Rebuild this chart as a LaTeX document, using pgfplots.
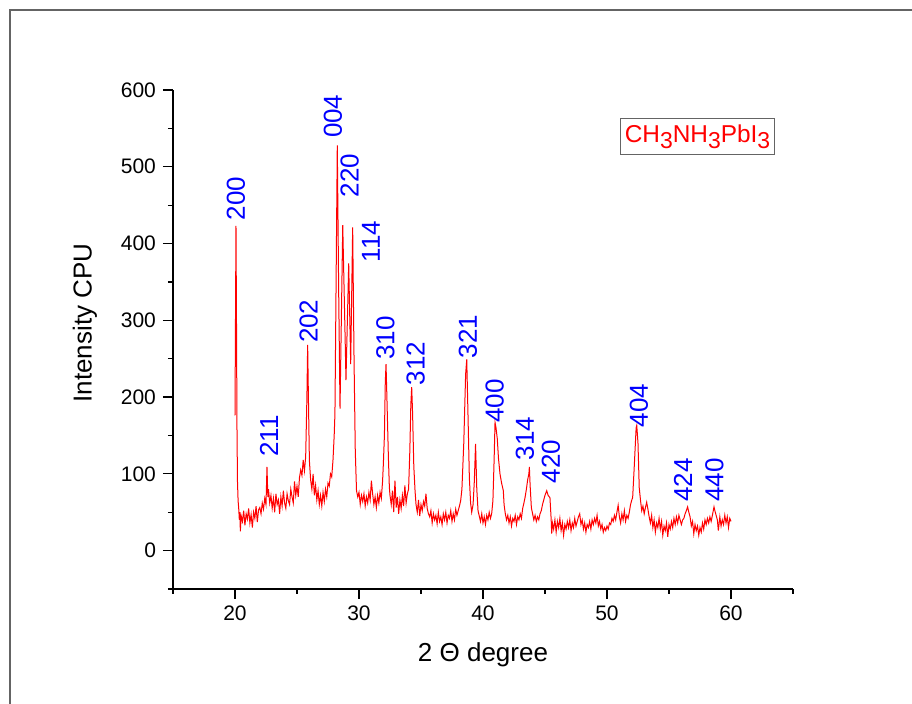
\documentclass[border=0pt]{standalone}
\usepackage{fontspec}
\setmainfont{Liberation Sans}
\usepackage{pgfplots}
\pgfplotsset{compat=1.18}
\definecolor{framegray}{RGB}{100,100,100}
\newcommand\sub[1]{\raisebox{-3pt}{\fontsize{11.5}{12}\selectfont #1}}
\begin{document}
\begin{tikzpicture}
\begin{axis}[
  at={(0,0)}, anchor=south west,
  scale only axis, width=310pt, height=249.5pt,
  xmin=15, xmax=65, ymin=-50, ymax=600,
  axis lines=left,
  axis line style={-, line width=0.6pt, black},
  xtick={20,30,...,60}, ytick={0,100,...,600},
  minor xtick={15,25,...,65}, minor ytick={-50,50,...,550},
  tick align=outside,
  major tick length=5pt, minor tick length=2.5pt,
  every tick/.style={black, line width=0.6pt},
  ticklabel style={font=\fontsize{10.5}{12}\selectfont},
  /pgf/number format/assume math mode=true,
  xlabel={2 Θ degree}, ylabel={Intensity CPU},
  label style={font=\fontsize{13}{15}\selectfont},
  xlabel style={at={(axis description cs:0.5,-0.132)}, anchor=center},
  ylabel style={at={(axis description cs:-0.142,0.533)}, anchor=center},
  clip=false,
]
\addplot[red, line width=0.5pt] coordinates {
(20.00,176)(20.04,300)(20.08,423)(20.12,300)(20.16,160)(20.20,90)(20.25,65)(20.30,55)(20.35,40)(20.40,50)(20.43,25)
(20.5,45)(20.6,38)(20.7,52)(20.8,33)(20.9,48)(21.0,41)(21.1,55)(21.2,36)(21.3,47)(21.4,30)(21.5,50)(21.6,42)(21.7,58)(21.8,37)(21.9,53)
(22.0,56)(22.1,48)(22.2,62)(22.3,54)(22.4,68)(22.5,60)(22.58,109)(22.65,70)(22.7,80)(22.8,62)(22.9,72)
(23.0,55)(23.1,68)(23.2,50)(23.3,74)(23.4,60)(23.5,66)(23.6,48)(23.7,70)(23.8,58)(23.9,78)
(24.0,62)(24.1,55)(24.2,74)(24.3,65)(24.4,60)(24.5,80)(24.6,70)(24.7,62)(24.8,90)(24.9,72)
(25.0,84)(25.1,70)(25.2,95)(25.3,105)(25.4,98)(25.5,118)(25.6,104)(25.7,122)(25.8,200)(25.86,268)(25.92,200)
(26.0,117)(26.1,92)(26.2,80)(26.3,100)(26.4,72)(26.5,85)(26.6,66)(26.7,78)(26.8,60)(26.9,72)
(27.0,58)(27.1,76)(27.2,64)(27.3,80)(27.4,70)(27.5,88)(27.6,84)(27.7,100)(27.8,96)(27.9,117)
(28.0,150)(28.06,178)(28.25,528)(28.36,340)(28.47,185)(28.69,424)(28.88,278)(28.95,222)(29.17,374)(29.33,243)(29.49,421)(29.6,250)(29.7,130)(29.8,78)(29.9,70)
(30.0,76)(30.1,60)(30.2,72)(30.3,64)(30.4,74)(30.5,58)(30.6,70)(30.7,62)(30.8,76)(30.9,66)
(31.0,91)(31.1,74)(31.2,60)(31.3,70)(31.4,56)(31.5,72)(31.6,62)(31.7,76)(31.8,68)(31.9,90)
(31.96,111)(32.05,150)(32.12,219)(32.18,243)(32.25,200)(32.37,122)(32.45,82)(32.5,72)(32.6,60)(32.7,78)(32.8,50)(32.9,91)
(33.0,56)(33.1,70)(33.2,48)(33.3,66)(33.4,55)(33.5,72)(33.6,58)(33.7,85)(33.8,62)(33.9,74)
(34.0,80)(34.1,130)(34.18,190)(34.25,213)(34.32,180)(34.42,110)(34.52,78)(34.6,60)(34.7,50)(34.8,66)(34.9,45)
(35.0,60)(35.1,52)(35.2,64)(35.3,58)(35.4,74)(35.5,55)(35.6,48)(35.7,44)(35.8,52)(35.9,36)
(36.0,48)(36.1,40)(36.2,46)(36.3,35)(36.4,50)(36.5,38)(36.6,44)(36.7,34)(36.8,48)(36.9,40)
(37.0,50)(37.1,36)(37.2,46)(37.3,42)(37.4,52)(37.5,38)(37.6,48)(37.7,40)(37.8,54)(37.9,46)
(38.0,52)(38.1,58)(38.2,65)(38.3,80)(38.45,140)(38.6,230)(38.69,249)(38.8,170)(38.9,95)
(39.0,62)(39.09,50)(39.2,60)(39.3,90)(39.4,139)(39.5,80)(39.6,52)(39.7,45)(39.8,38)(39.9,48)
(40.0,36)(40.1,44)(40.2,34)(40.3,46)(40.4,40)(40.5,50)(40.6,42)(40.7,48)(40.8,65)(40.9,120)
(40.97,167)(41.05,160)(41.15,146)(41.25,120)(41.37,100)(41.5,88)(41.64,78)(41.7,60)(41.8,48)(41.9,40)
(42.0,46)(42.1,36)(42.2,44)(42.3,32)(42.4,42)(42.5,38)(42.6,46)(42.7,34)(42.8,44)(42.9,40)
(43.0,48)(43.1,42)(43.2,55)(43.3,62)(43.39,69)(43.5,80)(43.6,92)(43.7,100)(43.74,109)(43.8,85)(43.9,56)
(44.0,48)(44.1,40)(44.2,46)(44.3,38)(44.4,44)(44.5,40)(44.6,48)(44.7,52)(44.8,60)(44.9,66)
(45.0,72)(45.14,78)(45.25,72)(45.4,69)(45.5,40)(45.54,22)(45.6,36)(45.7,28)(45.8,40)(45.9,24)
(46.0,38)(46.1,30)(46.2,42)(46.3,26)(46.4,36)(46.5,20)(46.6,34)(46.7,28)(46.8,38)(46.9,30)
(47.0,40)(47.1,26)(47.2,36)(47.3,30)(47.4,42)(47.5,32)(47.6,38)(47.7,44)(47.8,48)(47.9,34)
(48.0,40)(48.1,28)(48.2,36)(48.3,24)(48.4,34)(48.5,30)(48.6,38)(48.7,28)(48.8,40)(48.9,34)
(49.0,42)(49.1,36)(49.2,46)(49.3,32)(49.4,38)(49.5,28)(49.6,34)(49.7,24)(49.8,30)(49.9,26)
(50.0,32)(50.1,28)(50.2,36)(50.3,34)(50.4,42)(50.5,38)(50.6,46)(50.7,40)(50.8,50)(50.9,59)
(51.0,44)(51.1,36)(51.2,48)(51.3,40)(51.4,52)(51.5,38)(51.6,46)(51.7,42)(51.8,50)(51.9,60)
(52.0,66)(52.07,69)(52.2,110)(52.35,160)(52.4,163)(52.5,140)(52.6,82)(52.7,66)(52.8,52)(52.9,58)
(53.0,48)(53.1,56)(53.2,63)(53.3,54)(53.4,44)(53.5,36)(53.6,46)(53.7,30)(53.8,40)(53.9,24)
(54.0,36)(54.1,30)(54.2,42)(54.3,28)(54.4,38)(54.5,20)(54.6,32)(54.7,26)(54.8,36)(54.9,18)
(55.0,34)(55.1,28)(55.2,38)(55.3,30)(55.4,42)(55.5,34)(55.6,44)(55.7,36)(55.8,46)(55.9,40)
(56.0,34)(56.1,40)(56.2,42)(56.3,48)(56.4,52)(56.5,57)(56.6,50)(56.7,44)(56.8,32)(56.9,38)
(57.0,22)(57.1,34)(57.2,26)(57.3,32)(57.4,20)(57.5,30)(57.6,24)(57.7,36)(57.8,28)(57.9,40)
(58.0,34)(58.1,42)(58.2,36)(58.3,44)(58.4,38)(58.5,46)(58.63,57)(58.7,52)(58.8,46)(58.9,40)(58.98,26)
(59.1,44)(59.2,32)(59.3,40)(59.4,34)(59.5,46)(59.6,36)(59.7,44)(59.8,30)(59.9,42)(60.0,38)
};
\begin{scope}[every node/.style={rotate=90, anchor=west, inner sep=0pt, text=blue, font=\fontsize{13}{15}\selectfont}]
\node at (axis cs:20.08,430) {200};
\node at (axis cs:22.74,122) {211};
\node at (axis cs:25.94,270) {202};
\node at (axis cs:27.90,537) {004};
\node at (axis cs:29.25,460) {220};
\node at (axis cs:30.97,375) {114};
\node at (axis cs:32.14,248) {310};
\node at (axis cs:34.57,215) {312};
\node at (axis cs:38.79,250) {321};
\node at (axis cs:40.94,166) {400};
\node at (axis cs:43.39,117) {314};
\node at (axis cs:45.48,87) {420};
\node at (axis cs:52.58,160) {404};
\node at (axis cs:56.13,63) {424};
\node at (axis cs:58.67,63) {440};
\end{scope}
\node[draw=framegray, line width=0.6pt, text=red, inner xsep=2pt, inner ysep=3pt,
  font=\fontsize{12.2}{14}\selectfont, anchor=center]
  at (axis description cs:0.846,0.907) {CH\sub{3}NH\sub{3}PbI\sub{3}};
\end{axis}
\draw[framegray, line width=0.7pt] (420pt,289.5pt) -- (-81.5pt,289.5pt) -- (-81.5pt,-80pt);
\pgfresetboundingbox
\useasboundingbox (-86.5pt,-57.5pt) rectangle (369.5pt,294.5pt);
\end{tikzpicture}
\end{document}
